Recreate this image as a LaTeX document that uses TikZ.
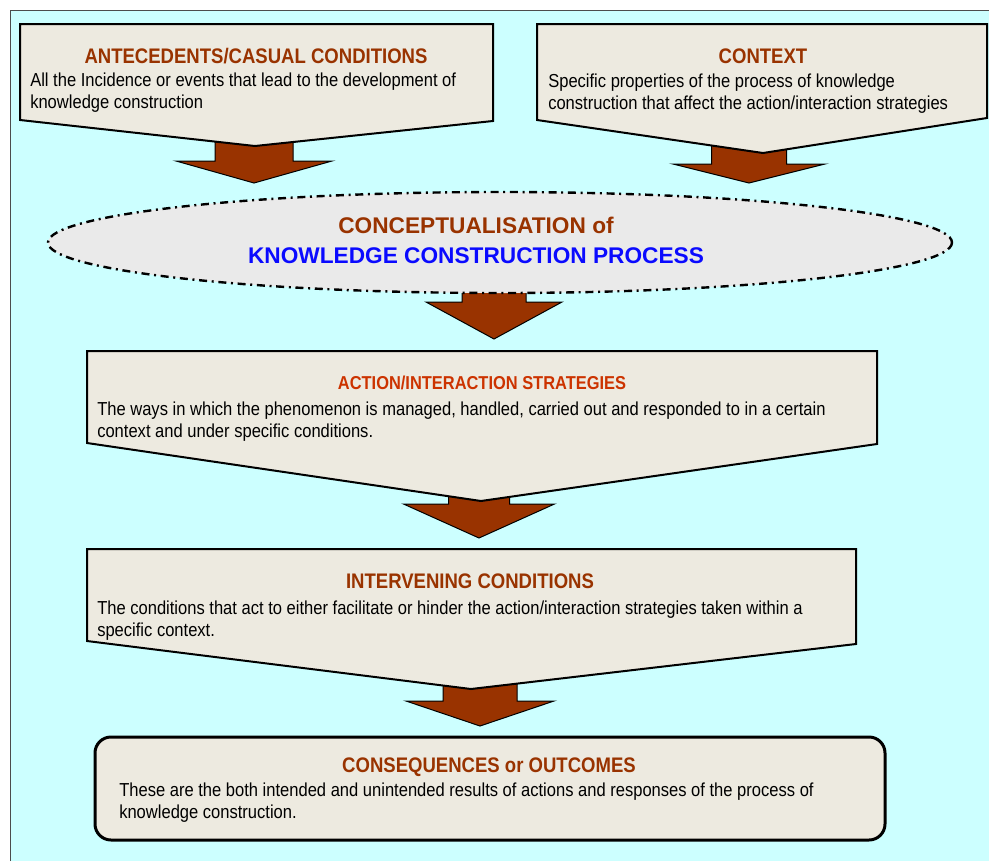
\documentclass[tikz,border=0pt]{standalone}
\usepackage{fontspec}
\setmainfont{Liberation Sans}
\newfontfamily\narrowfont[FakeStretch=0.88]{Liberation Sans}

\definecolor{bgcyan}{RGB}{204,255,255}
\definecolor{boxfill}{RGB}{237,234,224}
\definecolor{ellfill}{RGB}{234,234,234}
\definecolor{arrowbrown}{RGB}{153,51,0}
\definecolor{titlebrown}{RGB}{153,51,0}
\definecolor{titlered}{RGB}{204,51,0}
\definecolor{titleblue}{RGB}{10,10,255}

\tikzset{
  callout/.style={draw=black, line width=1.5pt, fill=boxfill, line join=miter},
  blockarr/.style={draw=black, line width=0.75pt, fill=arrowbrown},
  boxtitle/.style={font=\narrowfont\bfseries\fontsize{15.8}{19}\selectfont,
    text=titlebrown, inner sep=0pt, anchor=base},
  % anchored at the baseline of the last line
  boxtext/.style={font=\narrowfont\fontsize{14.1}{16.3}\selectfont,
    align=left, inner sep=0pt, anchor=base west},
  concept/.style={font=\bfseries\fontsize{17}{20}\selectfont,
    inner sep=0pt, anchor=base}
}

% block arrow: centre x, stem top y, head y, tip y, stem half width, head half width
\newcommand{\blockarrow}[6]{%
  \draw[blockarr] ({#1-#5},#2) -- ({#1+#5},#2) -- ({#1+#5},#3) -- ({#1+#6},#3)
    -- (#1,#4) -- ({#1-#6},#3) -- ({#1-#5},#3) -- cycle;}

\begin{document}
\begin{tikzpicture}[x=0.75pt,y=-0.75pt]
  \useasboundingbox (0,0) rectangle (989,861);
  % background panel
  \fill[bgcyan] (10,10) rectangle (989,861);
  \draw[line width=0.75pt, black!70] (10,861) -- (10,10) -- (989,10);

  % arrows (stems run under the boxes)
  \blockarrow{254}{130}{161}{183}{39}{78}
  \blockarrow{749}{130}{164}{183}{37.5}{76}
  \blockarrow{494}{260}{302}{339}{32}{68}
  \blockarrow{479}{480}{504}{538}{30.5}{75.5}
  \blockarrow{480}{670}{701}{726}{37}{74}

  % antecedents
  \draw[callout] (20,24) -- (493,24) -- (493,121) -- (255,146) -- (20,120) -- cycle;
  \node[boxtitle] (antetitle) at (256,63) {ANTECEDENTS/CASUAL CONDITIONS};
  \node[boxtext] (antetext) at (30,108)
    {All the Incidence or events that lead to the development of\\
     knowledge construction};

  % context
  \draw[callout] (537,24) -- (987,24) -- (987,118) -- (763,153) -- (537,120) -- cycle;
  \node[boxtitle] (ctxtitle) at (763,63) {CONTEXT};
  \node[boxtext] (ctxtext) at (548,109)
    {Specific properties of the process of knowledge\\
     construction that affect the action/interaction strategies};

  % conceptualisation
  \draw[fill=ellfill, line width=1.8pt, dash pattern=on 6pt off 3.5pt on 1.5pt off 3.5pt]
    (500,242.5) ellipse [x radius=452, y radius=50.5];
  \node[concept, text=titlebrown] (conctitle) at (476,233) {CONCEPTUALISATION of};
  \node[concept, text=titleblue] (concproc) at (476,263) {KNOWLEDGE CONSTRUCTION PROCESS};

  % action/interaction strategies
  \draw[callout] (87,351) -- (877,351) -- (877,444) -- (481,501) -- (87,443) -- cycle;
  \node[boxtitle, text=titlered, font=\narrowfont\bfseries\fontsize{14}{17}\selectfont]
    (acttitle) at (482,389) {ACTION/INTERACTION STRATEGIES};
  \node[boxtext] (acttext) at (97,437)
    {The ways in which the phenomenon is managed, handled, carried out and responded to in a certain\\
     context and under specific conditions.};

  % intervening conditions
  \draw[callout] (87,549) -- (856,549) -- (856,644) -- (471,689) -- (87,641) -- cycle;
  \node[boxtitle] (inttitle) at (470,588) {INTERVENING CONDITIONS};
  \node[boxtext] (inttext) at (97,636)
    {The conditions that act to either facilitate or hinder the action/interaction strategies taken within a\\
     specific context.};

  % consequences
  \draw[fill=boxfill, line width=2.25pt, rounded corners=12pt] (95,737) rectangle (885,840);
  \node[boxtitle] (contitle) at (489,772) {CONSEQUENCES or OUTCOMES};
  \node[boxtext] (context) at (119,818)
    {These are the both intended and unintended results of actions and responses of the process of\\
     knowledge construction.};
\end{tikzpicture}
\end{document}
